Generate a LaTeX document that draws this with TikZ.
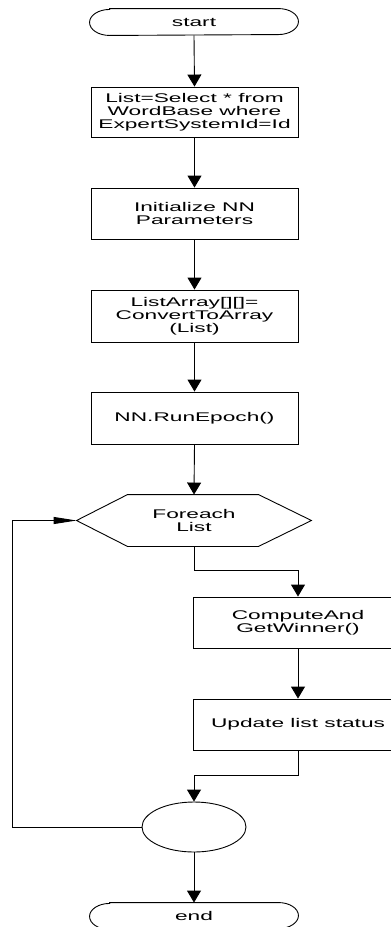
\documentclass[tikz,border=0pt]{standalone}
\usepackage{fontspec}
\setmainfont{Liberation Sans}[FakeStretch=1.8]
\usetikzlibrary{arrows.meta,shapes.geometric}

\begin{document}
\begin{tikzpicture}[x=1pt,y=-1pt,
  line width=0.9pt,
  every node/.style={align=center, inner sep=0pt,
    font=\fontsize{12.6}{13}\selectfont},
  box/.style={draw, rectangle, minimum width=207, minimum height=51},
  term/.style={minimum width=208, minimum height=26},
  flow/.style={-{Triangle[length=12pt,width=14pt]}},
  back/.style={-{Triangle[length=23pt,width=7pt]}}
]
\useasboundingbox (0,0) rectangle (391,927);
\clip (0,0) rectangle (391,927);

% start terminator
\node[term] (start) at (194,22) {start};
\draw ([xshift=20pt]start.north west) -- ([xshift=-20pt]start.north east)
  arc[start angle=90,end angle=-90,x radius=20pt,y radius=13pt]
  -- ([xshift=20pt]start.south west)
  arc[start angle=270,end angle=90,x radius=20pt,y radius=13pt] -- cycle;

% processing steps
\node[box, minimum height=50] (query) at (194.5,112)
  {List=Select * from\\WordBase where\\ExpertSystemId=Id};
\node[box] (init) at (194.5,213.5) {Initialize NN\\Parameters};
\node[box, minimum height=52] (conv) at (194.5,316)
  {ListArray[][]=\\ConvertToArray\\(List)};
\node[box, minimum height=52] (epoch) at (194.5,418) {NN.RunEpoch()};

% loop head
\node[minimum width=234, minimum height=51] (loop) at (194,520.5) {Foreach\\List};
\draw (loop.west) -- ([xshift=51pt]loop.north west)
  -- ([xshift=-53pt]loop.north east) -- (loop.east)
  -- ([xshift=-53pt]loop.south east) -- ([xshift=51pt]loop.south west) -- cycle;

% loop body
\node[box, minimum width=210] (winner) at (298,622.5) {ComputeAnd\\GetWinner()};
\node[box, minimum width=210] (update) at (298,724.5) {Update list status};

% junction and end
\node[draw, ellipse, minimum width=104, minimum height=50] (merge) at (194,827) {};
\node[term] (end) at (194,916) {end};
\draw ([xshift=20pt]end.north west) -- ([xshift=-20pt]end.north east)
  arc[start angle=90,end angle=-90,x radius=20pt,y radius=13pt]
  -- ([xshift=20pt]end.south west)
  arc[start angle=270,end angle=90,x radius=20pt,y radius=13pt] -- cycle;

% connectors
\coordinate (j1) at (298,570);
\coordinate (j2) at (194,775);
\coordinate (j3) at (12,827);

\draw[flow] (start.south) -- (query.north);
\draw[flow] (query.south) -- (init.north);
\draw[flow] (init.south) -- (conv.north);
\draw[flow] (conv.south) -- (epoch.north);
\draw[flow] (epoch.south) -- (loop.north);
\draw[flow] (loop.south) |- (j1) -- (winner.north);
\draw[flow] (winner.south) -- (update.north);
\draw[flow] (update.south) |- (j2) -- (merge.north);
\draw[back] (merge.west) -- (j3) |- (loop.west);
\draw[flow] (merge.south) -- (end.north);
\end{tikzpicture}
\end{document}
